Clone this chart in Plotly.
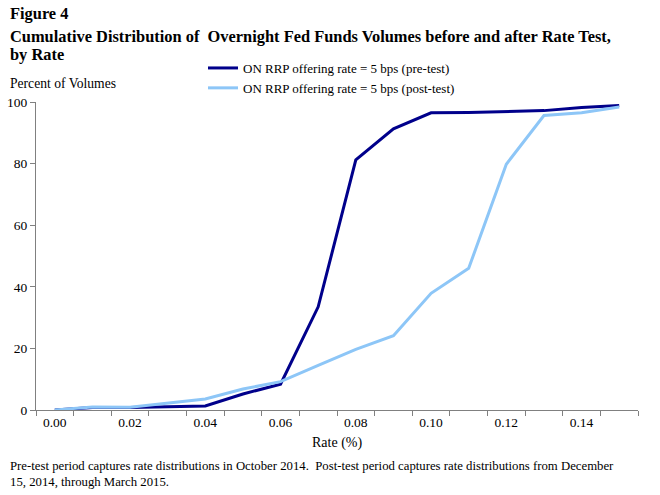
import plotly.graph_objects as go

rates = [0.00, 0.01, 0.02, 0.03, 0.04, 0.05, 0.06, 0.07, 0.08, 0.09, 0.10, 0.11, 0.12, 0.13, 0.14, 0.15]
pre_test = [0, 0.8, 0.8, 1.0, 1.3, 5.2, 8.4, 33.5, 81.2, 91.3, 96.5, 96.6, 97.0, 97.2, 98.2, 98.9]
post_test = [0, 1.0, 0.9, 2.2, 3.6, 6.8, 9.2, 14.5, 19.7, 24.1, 37.9, 46.0, 79.8, 95.6, 96.5, 98.4]
x_tick_vals = [0.00, 0.02, 0.04, 0.06, 0.08, 0.10, 0.12, 0.14]
x_tick_text = ["0.00", "0.02", "0.04", "0.06", "0.08", "0.10", "0.12", "0.14"]
y_tick_vals = [0, 20, 40, 60, 80, 100]

FONT = "Liberation Serif"
W, H = 660, 495
L, R, T, B = 36, 22, 102, 85
PW, PH = W - L - R, H - T - B

def px(x):
    return (x - L) / PW

def py(y):
    return (H - B - y) / PH

fig = go.Figure()
fig.add_trace(go.Scatter(x=rates, y=pre_test, mode="lines",
                         name="ON RRP offering rate = 5 bps (pre-test)",
                         line=dict(color="#00008B", width=3)))
fig.add_trace(go.Scatter(x=rates, y=post_test, mode="lines",
                         name="ON RRP offering rate = 5 bps (post-test)",
                         line=dict(color="#8DC6F7", width=3)))

annotations = [
    dict(text="<b>Figure 4</b>", x=px(8), y=py(14), xanchor="left", yanchor="middle", font=dict(size=16.4)),
    dict(text="<b>Cumulative Distribution of  Overnight Fed Funds Volumes before and after Rate Test,</b>",
         x=px(8), y=py(36), xanchor="left", yanchor="middle", font=dict(size=16.4)),
    dict(text="<b>by Rate</b>", x=px(8), y=py(55), xanchor="left", yanchor="middle", font=dict(size=16.4)),
    dict(text="Percent of Volumes", x=px(8), y=py(84), xanchor="left", yanchor="middle", font=dict(size=13.6)),
    dict(text="Rate (%)", x=px(337), y=py(443), xanchor="center", yanchor="middle", font=dict(size=14)),
    dict(text="Pre-test period captures rate distributions in October 2014.  Post-test period captures rate distributions from December",
         x=px(8), y=py(466), xanchor="left", yanchor="middle", font=dict(size=12.75)),
    dict(text="15, 2014, through March 2015.", x=px(8), y=py(482), xanchor="left", yanchor="middle", font=dict(size=12.75)),
]
for a in annotations:
    a.update(xref="paper", yref="paper", showarrow=False, font=dict(family=FONT, color="black", size=a["font"]["size"]))

fig.update_layout(
    width=W, height=H,
    margin=dict(l=L, r=R, t=T, b=B, autoexpand=False),
    paper_bgcolor="white", plot_bgcolor="white",
    font=dict(family=FONT, color="black", size=13),
    annotations=annotations,
    showlegend=True,
    legend=dict(x=px(203), y=py(53), xanchor="left", yanchor="top",
                bgcolor="rgba(0,0,0,0)", font=dict(family=FONT, size=13, color="black"),
                tracegroupgap=0, itemwidth=30),
    xaxis=dict(range=[-0.005, 0.155], tickvals=x_tick_vals, ticktext=x_tick_text,
               ticks="", showgrid=False, zeroline=False, showline=True,
               linecolor="#808080", linewidth=1,
               minor=dict(tick0=-0.005, dtick=0.01, ticks="outside", ticklen=5,
                          tickcolor="#808080", showgrid=False),
               tickfont=dict(family=FONT, size=13.5, color="black")),
    yaxis=dict(range=[0, 100], tickvals=y_tick_vals, ticks="outside", ticklen=5,
               tickcolor="#808080", showgrid=False, zeroline=False, showline=True,
               linecolor="#808080", linewidth=1,
               tickfont=dict(family=FONT, size=13.5, color="black")),
)

fig.write_html("out.html", config={"displayModeBar": False},
               post_script="document.body.style.margin='0';")
